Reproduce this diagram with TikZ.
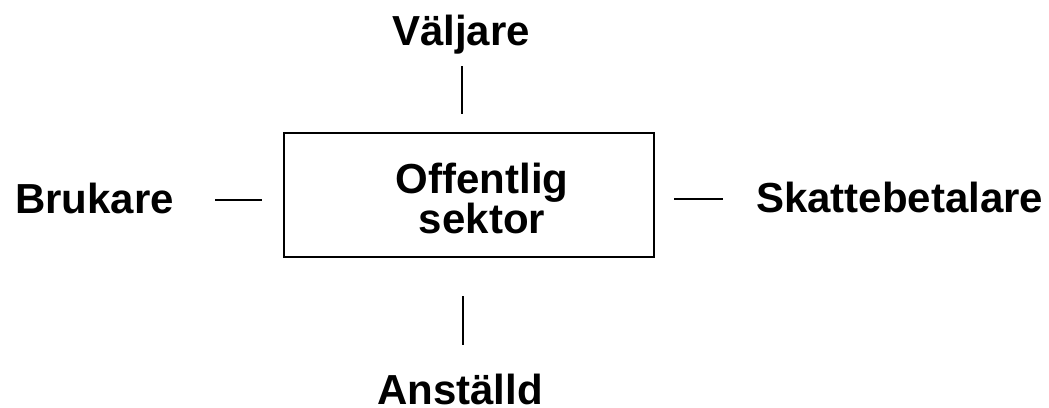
\documentclass[tikz,border=0pt]{standalone}
\usepackage{fontspec}
\setmainfont{Liberation Sans}
\begin{document}
\begin{tikzpicture}[x=1pt,y=-1pt,
  lbl/.style={font=\fontsize{42}{40}\selectfont\bfseries, inner sep=0pt},
  conn/.style={line width=1.5pt},
  boxst/.style={draw, line width=2pt, minimum width=370pt, minimum height=124pt, inner sep=0pt}]
\useasboundingbox (0,0) rectangle (1049,407);
\node[boxst] (box) at (469,195) {};
\node[lbl, align=center, anchor=base] (txt) at (482,233) {Offentlig\\sektor};
\node[lbl, anchor=base] (valj) at (461,45) {Väljare};
\node[lbl, anchor=base west] (bruk) at (15,213) {Brukare};
\node[lbl, anchor=base west] (skatt) at (756,212) {Skattebetalare};
\node[lbl, anchor=base] (anst) at (460,404) {Anställd};
\coordinate (t1) at (462,66); \coordinate (t2) at (462,114);
\coordinate (b1) at (463,296); \coordinate (b2) at (463,345);
\coordinate (l1) at (215,200); \coordinate (l2) at (262,200);
\coordinate (r1) at (674,199); \coordinate (r2) at (723,199);
\draw[conn] (t1) -- (t2);
\draw[conn] (b1) -- (b2);
\draw[conn] (l1) -- (l2);
\draw[conn] (r1) -- (r2);
\end{tikzpicture}
\end{document}
